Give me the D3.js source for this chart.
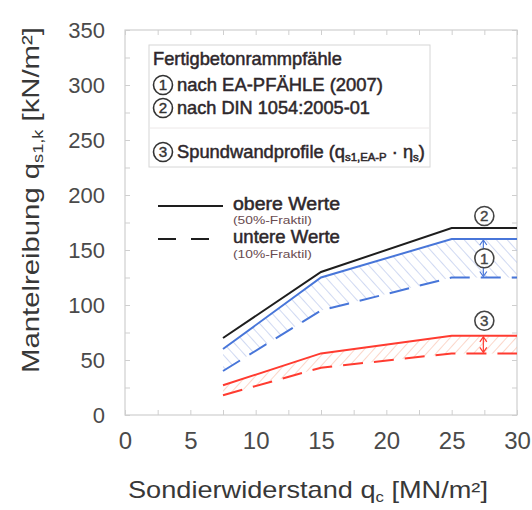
<!DOCTYPE html>
<html><head><meta charset="utf-8">
<script src="https://cdn.jsdelivr.net/npm/d3@7"></script>
<style>html,body{margin:0;padding:0;background:#fff;}svg{display:block;font-family:"Liberation Sans",Arial,sans-serif;}</style>
</head><body>
<svg id="chart" width="532" height="510"></svg>
<script>
// ---- data ----
const qc = [7.5, 15, 25, 30];                 // Sondierwiderstand [MN/m²]
const dinUpper = [70, 130, 170, 170];          // ② DIN 1054:2005-01 (obere Werte)
const eaUpper = [60, 125, 160, 160];           // ① EA-PFÄHLE obere Werte (50%)
const eaLower = [40, 95, 125, 125];            // ① EA-PFÄHLE untere Werte (10%)
const spUpper = [27, 56, 72, 72];              // ③ Spundwandprofile obere
const spLower = [18, 43, 56, 56];              // ③ Spundwandprofile untere
const xTicks = [0, 5, 10, 15, 20, 25, 30];
const yTicks = [0, 50, 100, 150, 200, 250, 300, 350];
const xMinor = d3.range(0, 30.01, 2.5);
const yMinor = d3.range(0, 350.01, 25);
const legendTitle = "Fertigbetonrammpfähle";
const legendItems = ["nach EA-PFÄHLE (2007)", "nach DIN 1054:2005-01"];

// ---- layout ----
const L = 125, R = 517, T = 30, B = 415;
const x = d3.scaleLinear().domain([0, 30]).range([L, R]);
const y = d3.scaleLinear().domain([0, 350]).range([B, T]);
const svg = d3.select("#chart");
const txtCol = "#2e272b";

function stext(parent, tx, ty, parts, size, target, opt) {
  opt = opt || {};
  const g = parent.append("g");
  const inner = g.append("g");
  const t = inner.append("text").attr("x", 0).attr("y", 0)
    .attr("font-size", size).attr("fill", opt.fill || txtCol)
    .attr("text-anchor", opt.anchor || "start");
  if (opt.heavy) t.attr("stroke", opt.fill || txtCol).attr("stroke-width", opt.heavy);
  parts.forEach(p => {
    const s = t.append("tspan").text(p.t);
    if (p.sub) s.attr("font-size", size * 0.62).attr("baseline-shift", "-28%");
  });
  let sx = 1;
  if (target) { const w = t.node().getBBox().width; if (w > 0) sx = target / w; }
  inner.attr("transform", `scale(${sx},1)`);
  g.attr("transform", `translate(${tx},${ty})` + (opt.rotate ? ` rotate(${opt.rotate})` : ""));
  return g;
}
function circled(parent, cx, cy, n, r, col) {
  parent.append("circle").attr("cx", cx).attr("cy", cy).attr("r", r)
    .attr("fill", "#fff").attr("stroke", col || "#333").attr("stroke-width", 1.6);
  parent.append("text").attr("x", cx).attr("y", cy + r * 0.56).attr("text-anchor", "middle")
    .attr("font-size", r * 1.6).attr("fill", col || "#333")
    .attr("stroke", col || "#333").attr("stroke-width", 0.4).text(n);
}

// ---- patterns ----
const defs = svg.append("defs");
const pb = defs.append("pattern").attr("id", "hatchBlue").attr("patternUnits", "userSpaceOnUse")
  .attr("width", 8).attr("height", 8).attr("patternTransform", "rotate(-42)");
pb.append("line").attr("x1", 0).attr("y1", 0).attr("x2", 0).attr("y2", 8)
  .attr("stroke", "#a9bae8").attr("stroke-width", 1.1);
const pr = defs.append("pattern").attr("id", "hatchRed").attr("patternUnits", "userSpaceOnUse")
  .attr("width", 7).attr("height", 8).attr("patternTransform", "rotate(42)");
pr.append("line").attr("x1", 0).attr("y1", 0).attr("x2", 0).attr("y2", 8)
  .attr("stroke", "#f8bca6").attr("stroke-width", 1.2);

// ---- frame & ticks ----
const frameCol = "#cfcfcf";
svg.append("rect").attr("x", L).attr("y", T).attr("width", R - L).attr("height", B - T)
  .attr("fill", "none").attr("stroke", frameCol).attr("stroke-width", 1.2);
const tl = 5;
function minor(axis, tr, vals) {
  svg.append("g").attr("transform", tr)
    .call(axis.tickValues(vals).tickSize(-tl).tickFormat(""))
    .call(g => { g.select(".domain").remove(); g.selectAll("line").attr("stroke", frameCol); });
}
minor(d3.axisBottom(x), `translate(0,${B})`, xMinor);
minor(d3.axisTop(x), `translate(0,${T})`, xMinor);
minor(d3.axisLeft(y), `translate(${L},0)`, yMinor);
minor(d3.axisRight(y), `translate(${R},0)`, yMinor);

// tick labels
svg.append("g").attr("transform", `translate(0,${B})`)
  .call(d3.axisBottom(x).tickValues(xTicks).tickSize(0).tickPadding(17))
  .call(g => { g.select(".domain").remove();
    g.selectAll("text").attr("font-size", 24).attr("fill", "#4a4a4a").attr("font-family", "Liberation Sans, Arial, sans-serif"); });
svg.append("g").attr("transform", `translate(${L},0)`)
  .call(d3.axisLeft(y).tickValues(yTicks).tickSize(0).tickPadding(20))
  .call(g => { g.select(".domain").remove();
    g.selectAll("text").attr("font-size", 22).attr("fill", "#4a4a4a").attr("font-family", "Liberation Sans, Arial, sans-serif"); });

// axis titles
stext(svg, 128, 498, [{t: "Sondierwiderstand q"}, {t: "c", sub: 1}, {t: " [MN/m²]"}], 23, 360, {fill: "#383838"});
stext(svg, 39, 200, [{t: "Mantelreibung q"}, {t: "s1,k", sub: 1}, {t: " [kN/m²]"}], 24, 346, {fill: "#383838", anchor: "middle", rotate: -90});

// ---- areas ----
const pts = (a, b) => qc.map((v, i) => ({x: v, y0: b[i], y1: a[i]}));
const area = d3.area().x(d => x(d.x)).y0(d => y(d.y0)).y1(d => y(d.y1));
svg.append("path").datum(pts(eaUpper, eaLower)).attr("d", area).attr("fill", "url(#hatchBlue)");
svg.append("path").datum(pts(spUpper, spLower)).attr("d", area).attr("fill", "url(#hatchRed)");

// ---- lines ----
const line = d3.line().x((d, i) => x(qc[i])).y(d => y(d));
const dash = "20,11";
const series = [
  {v: dinUpper, c: "#1e1e1e", d: null},
  {v: eaUpper, c: "#4876d9", d: null},
  {v: eaLower, c: "#4876d9", d: dash},
  {v: spUpper, c: "#ff3b30", d: null},
  {v: spLower, c: "#ff3b30", d: dash}
];
series.forEach(s => {
  svg.append("path").datum(s.v).attr("d", line).attr("fill", "none")
    .attr("stroke", s.c).attr("stroke-width", 2).attr("stroke-dasharray", s.d);
});

// ---- annotations ----
const ax = x(27.5) - 1;
function dblArrow(x0, ya, yb, col, hw) {
  svg.append("line").attr("x1", x0).attr("x2", x0).attr("y1", ya + 2).attr("y2", yb - 2)
    .attr("stroke", col).attr("stroke-width", 1.2);
  svg.append("path").attr("d", `M${x0 - hw},${ya + 6}L${x0},${ya + 1}L${x0 + hw},${ya + 6}`)
    .attr("fill", "none").attr("stroke", col).attr("stroke-width", 1.2);
  svg.append("path").attr("d", `M${x0 - hw},${yb - 6}L${x0},${yb - 1}L${x0 + hw},${yb - 6}`)
    .attr("fill", "none").attr("stroke", col).attr("stroke-width", 1.2);
}
dblArrow(ax, y(eaUpper[3]), y(eaLower[3]), "#4876d9", 3.5);
circled(svg, ax + 1, (y(eaUpper[3]) + y(eaLower[3])) / 2, "1", 9.5, "#444");
circled(svg, ax + 1, y(dinUpper[3]) - 12, "2", 9.5, "#444");
dblArrow(ax, y(spUpper[3]), y(spLower[3]), "#ff3b30", 3.5);
circled(svg, ax + 1, y(spUpper[3]) - 15, "3", 9.5, "#444");

// ---- legend box ----
svg.append("rect").attr("x", 149).attr("y", 45).attr("width", 281).attr("height", 122)
  .attr("fill", "#fff").attr("stroke", "#d6d6d6").attr("stroke-width", 1);
svg.append("line").attr("x1", 150).attr("x2", 429).attr("y1", 128).attr("y2", 128)
  .attr("stroke", "#ece8e8").attr("stroke-width", 1);
const hv = 0.5;
stext(svg, 153, 65, [{t: legendTitle}], 18, 189, {heavy: hv});
circled(svg, 163, 85, "1", 9.5, "#333");
stext(svg, 177, 91, [{t: legendItems[0]}], 18, 206, {heavy: hv});
circled(svg, 163, 108, "2", 9.5, "#333");
stext(svg, 177, 114, [{t: legendItems[1]}], 18, 193, {heavy: hv});
circled(svg, 163, 152, "3", 9.5, "#333");
stext(svg, 177, 158, [{t: "Spundwandprofile (q"}, {t: "s1,EA-P", sub: 1}, {t: " · η"}, {t: "s", sub: 1}, {t: ")"}], 18, 248, {heavy: hv});

// ---- line-style legend ----
svg.append("line").attr("x1", 158).attr("x2", 223).attr("y1", 206).attr("y2", 206)
  .attr("stroke", "#1e1e1e").attr("stroke-width", 2);
svg.append("line").attr("x1", 158).attr("x2", 209).attr("y1", 239).attr("y2", 239)
  .attr("stroke", "#1e1e1e").attr("stroke-width", 2).attr("stroke-dasharray", "18,15");
stext(svg, 233, 210, [{t: "obere Werte"}], 18, 107, {heavy: hv});
stext(svg, 233, 224, [{t: "(50%-Fraktil)"}], 11, 79, {fill: "#6a4b50"});
stext(svg, 233, 243, [{t: "untere Werte"}], 18, 107, {heavy: hv});
stext(svg, 233, 258, [{t: "(10%-Fraktil)"}], 11, 79, {fill: "#6a4b50"});
</script>
</body></html>
